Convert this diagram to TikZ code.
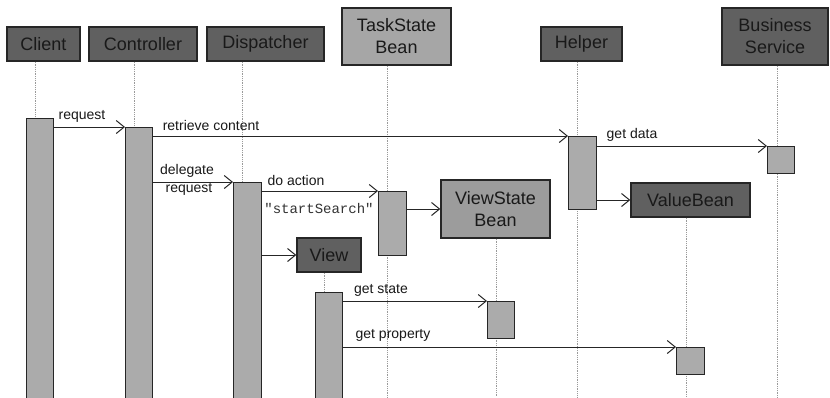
\documentclass[tikz,border=0pt]{standalone}
\usepackage{fontspec}
\setmainfont{Liberation Sans}
\setmonofont{Liberation Mono}
\usetikzlibrary{arrows.meta}
\definecolor{darkbox}{HTML}{606060}
\definecolor{taskfill}{HTML}{A6A6A6}
\definecolor{viewfill}{HTML}{9C9C9C}
\definecolor{barfill}{HTML}{ABABAB}
\definecolor{edge}{HTML}{262626}
\definecolor{life}{HTML}{9A9A9A}
\tikzset{
  part/.style={draw=edge, line width=1.4pt, inner sep=0pt, align=center,
    font=\fontsize{18}{22}\selectfont, text=black!90},
  darkpart/.style={part, fill=darkbox},
  taskpart/.style={part, fill=taskfill},
  viewpart/.style={part, fill=viewfill},
  actbar/.style={draw=edge, line width=1.2pt, fill=barfill},
  lifeline/.style={draw=life, line width=0.8pt, densely dotted},
  msg/.style={draw=edge, line width=1pt, -{Straight Barb[length=8pt,width=13pt,line width=1pt]}},
  lbl/.style={inner sep=0pt, font=\fontsize{14}{16}\selectfont, text=black!90},
  codelbl/.style={inner sep=0pt, font=\ttfamily\fontsize{14}{16}\selectfont, text=black!80},
}
\begin{document}
\begin{tikzpicture}[x=1pt,y=-1pt]
\useasboundingbox (0,0) rectangle (830,397);
\clip (0,0) rectangle (830,397);
\fill[white] (0,0) rectangle (830,397);

% participant boxes
\node[darkpart, minimum width=73pt, minimum height=34pt] (client) at (43.5,44) {Client};
\node[darkpart, minimum width=108pt, minimum height=34pt] (ctrl) at (143,44) {Controller};
\node[darkpart, minimum width=117pt, minimum height=34pt] (disp) at (265.5,44) {Dispatcher};
\node[taskpart, minimum width=109pt, minimum height=57pt] (task) at (396.5,36.5) {TaskState\\Bean};
\node[darkpart, minimum width=81pt, minimum height=34pt] (helper) at (581.5,44) {Helper};
\node[darkpart, minimum width=106pt, minimum height=57pt] (bus) at (775,36.5) {Business\\Service};
\node[viewpart, minimum width=109pt, minimum height=58pt] (vsb) at (495.5,209) {ViewState\\Bean};
\node[darkpart, minimum width=119pt, minimum height=34pt] (valb) at (690.5,200) {ValueBean};
\node[darkpart, minimum width=64pt, minimum height=34pt] (view) at (329,255) {View};

% lifeline bottoms
\coordinate (llclient) at (35,397);
\coordinate (llctrl) at (134,397);
\coordinate (lldisp) at (242,397);
\coordinate (lltask) at (387,397);
\coordinate (llhelper) at (577,397);
\coordinate (llbus) at (777,397);
\coordinate (llvsb) at (496,397);
\coordinate (llvalb) at (686,397);
\coordinate (llview) at (324,397);

\draw[lifeline] (client.south -| llclient) -- (llclient);
\draw[lifeline] (ctrl.south -| llctrl) -- (llctrl);
\draw[lifeline] (disp.south -| lldisp) -- (lldisp);
\draw[lifeline] (task.south -| lltask) -- (lltask);
\draw[lifeline] (helper.south -| llhelper) -- (llhelper);
\draw[lifeline] (bus.south -| llbus) -- (llbus);
\draw[lifeline] (vsb.south -| llvsb) -- (llvsb);
\draw[lifeline] (valb.south -| llvalb) -- (llvalb);
\draw[lifeline] (view.south -| llview) -- (llview);

% activation bars
\node[actbar, inner sep=0pt, minimum width=27pt, minimum height=284pt, anchor=north west] (clbar) at (26,118) {};
\node[actbar, inner sep=0pt, minimum width=27pt, minimum height=275pt, anchor=north west] (cbar) at (125,127) {};
\node[actbar, inner sep=0pt, minimum width=28pt, minimum height=220pt, anchor=north west] (dbar) at (233,182) {};
\node[actbar, inner sep=0pt, minimum width=28pt, minimum height=64pt, anchor=north west] (tbar) at (378,191) {};
\node[actbar, inner sep=0pt, minimum width=28pt, minimum height=73pt, anchor=north west] (hbar) at (568,136) {};
\node[actbar, inner sep=0pt, minimum width=27pt, minimum height=27pt, anchor=north west] (bbar) at (767,146) {};
\node[actbar, inner sep=0pt, minimum width=27pt, minimum height=110pt, anchor=north west] (vbar) at (315,292) {};
\node[actbar, inner sep=0pt, minimum width=27pt, minimum height=37pt, anchor=north west] (vsbar) at (487,301) {};
\node[actbar, inner sep=0pt, minimum width=28pt, minimum height=27pt, anchor=north west] (vbbar) at (676,347) {};

% messages
\draw[msg] (clbar.east |- cbar.north) -- (cbar.north west);
\draw[msg] (cbar.east |- hbar.north) -- (hbar.north west);
\draw[msg] (hbar.east |- bbar.north) -- (bbar.north west);
\draw[msg] (cbar.east |- dbar.north) -- (dbar.north west);
\draw[msg] (dbar.east |- tbar.north) -- (tbar.north west);
\draw[msg] (tbar.east |- vsb.west) -- (vsb.west);
\draw[msg] (hbar.east |- valb.west) -- (valb.west);
\draw[msg] (dbar.east |- view.west) -- (view.west);
\draw[msg] (vbar.east |- vsbar.north) -- (vsbar.north west);
\draw[msg] (vbar.east |- vbbar.north) -- (vbbar.north west);

% labels
\node[lbl] (lrequest) at (82,116) {request};
\node[lbl] (lretrieve) at (211,125) {retrieve content};
\node[lbl] (lgetdata) at (632,135) {get data};
\node[lbl] (ldelegate) at (187,171) {delegate};
\node[lbl] (ldelreq) at (189,189) {request};
\node[lbl] (ldoaction) at (296,180) {do action};
\node[codelbl] (lstart) at (319,208) {"startSearch"};
\node[lbl] (lgetstate) at (381,290) {get state};
\node[lbl] (lgetprop) at (393,335) {get property};
\end{tikzpicture}
\end{document}
